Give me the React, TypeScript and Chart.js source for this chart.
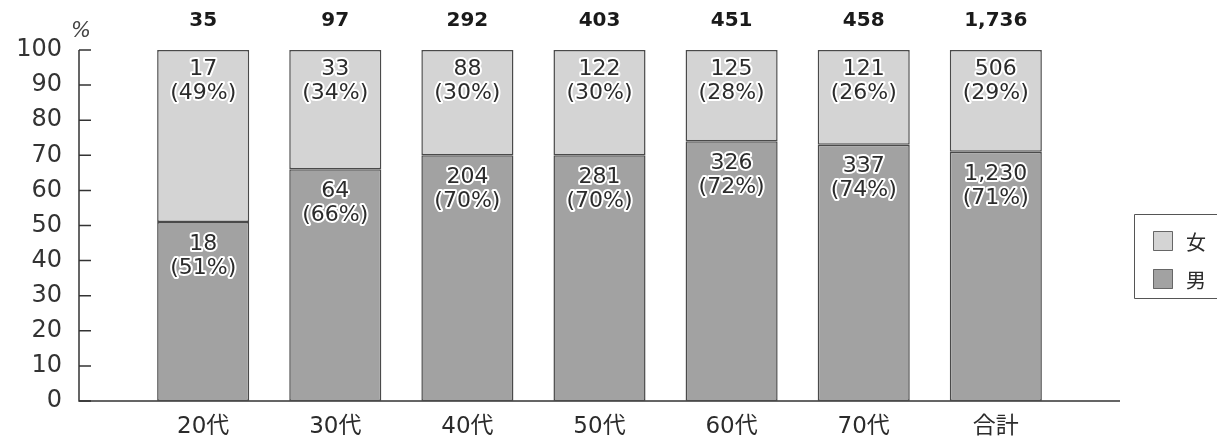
import React, { useEffect, useRef } from "react";
import { Chart, registerables } from "chart.js";

Chart.register(...registerables);

const categories = ["20代", "30代", "40代", "50代", "60代", "70代", "合計"];
const totals = ["35", "97", "292", "403", "451", "458", "1,736"];
const maleCounts = ["18", "64", "204", "281", "326", "337", "1,230"];
const femaleCounts = ["17", "33", "88", "122", "125", "121", "506"];
const malePctLabels = [51, 66, 70, 70, 72, 74, 71];
const femalePctLabels = [49, 34, 30, 30, 28, 26, 29];
// segment heights as drawn in the reference (%)
const maleShare = [51, 66, 70, 70, 74, 73, 71];
const femaleShare = [49, 34, 30, 30, 26, 27, 29];
const yTicks = [0, 10, 20, 30, 40, 50, 60, 70, 80, 90, 100];

const FONT = '"DejaVu Sans", "Noto Sans CJK JP", sans-serif';
const MALE_COLOR = "#a2a2a2";
const FEMALE_COLOR = "#d4d4d4";
const EDGE = "#4a4a4a";
const TEXT = "#2b2b2b";

const decorPlugin = {
  id: "decor",
  beforeDatasetsDraw(chart: any) {
    const ctx = chart.ctx;
    const y = chart.scales.y;
    const x = chart.scales.x;
    const left = chart.chartArea.left;
    const right = chart.chartArea.right;
    ctx.save();
    ctx.strokeStyle = "#333";
    ctx.lineWidth = 1.5;
    ctx.beginPath();
    ctx.moveTo(left, y.getPixelForValue(100));
    ctx.lineTo(left, y.getPixelForValue(0));
    ctx.lineTo(right, y.getPixelForValue(0));
    ctx.stroke();
    ctx.beginPath();
    yTicks.forEach((t) => {
      const py = y.getPixelForValue(t);
      ctx.moveTo(left, py);
      ctx.lineTo(left + 12, py);
    });
    ctx.stroke();
    // % unit
    ctx.fillStyle = "#444";
    ctx.font = `oblique 21px "DejaVu Sans", sans-serif`;
    ctx.textAlign = "center";
    ctx.textBaseline = "middle";
    ctx.fillText("%", left + 2, 32);
    // totals
    ctx.fillStyle = "#1a1a1a";
    ctx.font = `bold 20px ${FONT}`;
    categories.forEach((_, i) => {
      ctx.fillText(totals[i], x.getPixelForValue(i), 21);
    });
    ctx.restore();
  },
  afterDatasetsDraw(chart: any) {
    const ctx = chart.ctx;
    ctx.save();
    ctx.font = `22px ${FONT}`;
    ctx.textAlign = "center";
    ctx.textBaseline = "middle";
    ctx.lineJoin = "round";
    const sets = [
      { counts: maleCounts, pcts: malePctLabels },
      { counts: femaleCounts, pcts: femalePctLabels },
    ];
    sets.forEach((s, di) => {
      const meta = chart.getDatasetMeta(di);
      meta.data.forEach((el: any, i: number) => {
        const lines = [s.counts[i], `(${s.pcts[i]}%)`];
        lines.forEach((t, li) => {
          const py = el.y + (di === 0 ? 22 : 19) + li * 24;
          ctx.strokeStyle = "#fff";
          ctx.lineWidth = 4;
          ctx.strokeText(t, el.x, py);
          ctx.fillStyle = TEXT;
          ctx.fillText(t, el.x, py);
        });
      });
    });
    // legend
    ctx.strokeStyle = "#555";
    ctx.lineWidth = 1;
    ctx.strokeRect(1134.5, 214.5, 100, 84);
    const items = [
      { label: "女", color: FEMALE_COLOR, y: 241 },
      { label: "男", color: MALE_COLOR, y: 279 },
    ];
    ctx.font = `20px "Noto Sans CJK JP", sans-serif`;
    ctx.textAlign = "left";
    items.forEach((it) => {
      ctx.fillStyle = it.color;
      ctx.fillRect(1153, it.y - 10, 20, 20);
      ctx.strokeStyle = "#666";
      ctx.strokeRect(1153.5, it.y - 9.5, 19, 19);
      ctx.fillStyle = TEXT;
      ctx.fillText(it.label, 1186, it.y + 1);
    });
    ctx.restore();
  },
};

export default function App() {
  const ref = useRef<HTMLCanvasElement>(null);
  useEffect(() => {
    if (!ref.current) return;
    const chart = new Chart(ref.current, {
      type: "bar",
      data: {
        datasets: [
          {
            label: "男",
            data: categories.map((_, i) => ({ x: i, y: maleShare[i] })),
            backgroundColor: MALE_COLOR,
            borderColor: EDGE,
            borderWidth: 1.5,
            borderSkipped: false,
            barPercentage: 0.697,
            categoryPercentage: 1,
          },
          {
            label: "女",
            data: categories.map((_, i) => ({ x: i, y: femaleShare[i] })),
            backgroundColor: FEMALE_COLOR,
            borderColor: EDGE,
            borderWidth: 1.5,
            borderSkipped: false,
            barPercentage: 0.697,
            categoryPercentage: 1,
          },
        ],
      } as any,
      options: {
        animation: false,
        responsive: false,
        layout: { padding: { top: 50, right: 97, left: 0, bottom: 0 } },
        plugins: { legend: { display: false }, tooltip: { enabled: false } },
        scales: {
          x: {
            type: "linear",
            stacked: true,
            offset: false,
            min: -0.94,
            max: 6.94,
            grid: { display: false, drawTicks: false },
            border: { display: false },
            afterFit: (s: any) => {
              s.height = 41;
            },
            ticks: {
              stepSize: 1,
              includeBounds: false,
              autoSkip: false,
              maxRotation: 0,
              padding: 12,
              color: TEXT,
              font: { family: FONT, size: 23 },
              callback: (v: any) =>
                Number.isInteger(v) && categories[v] !== undefined ? categories[v] : "",
            },
          },
          y: {
            stacked: true,
            min: 0,
            max: 100,
            grid: { display: false, drawTicks: false },
            border: { display: false },
            afterFit: (s: any) => {
              s.width = 79;
            },
            ticks: {
              stepSize: 10,
              padding: 17,
              color: "#333",
              font: { family: FONT, size: 24 },
            },
          },
        },
      } as any,
      plugins: [decorPlugin],
    });
    return () => chart.destroy();
  }, []);
  return (
    <div style={{ position: "fixed", left: 0, top: 0, width: 1217, height: 442, background: "#fff" }}>
      <canvas ref={ref} width={1217} height={442} />
    </div>
  );
}
